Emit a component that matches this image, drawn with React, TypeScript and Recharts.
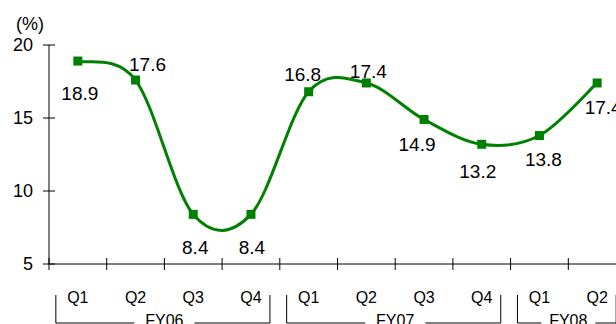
import { LineChart, Line, XAxis, YAxis, LabelList } from 'recharts'

const quarters = ['Q1', 'Q2', 'Q3', 'Q4', 'Q1', 'Q2', 'Q3', 'Q4', 'Q1', 'Q2']
const fiscalYears = ['FY06', 'FY06', 'FY06', 'FY06', 'FY07', 'FY07', 'FY07', 'FY07', 'FY08', 'FY08']
const ratio = [18.9, 17.6, 8.4, 8.4, 16.8, 17.4, 14.9, 13.2, 13.8, 17.4]
const yTicks = [5, 10, 15, 20]

// label placement relative to each marker (dx, dy)
const labelOffsets: [number, number][] = [
  [2, 32], [12, -16], [2, 33], [1, 33], [-6, -17],
  [2, -11], [-7, 25], [-4, 27], [4, 24], [6, 25],
]

const data = quarters.map((q, i) => ({ key: `${fiscalYears[i]}-${q}`, value: ratio[i] }))

const W = 640
const H = 324
const LEFT = 49
const RIGHT = 14
const TOP = 45
const XAXIS_H = 60
const AXIS_Y = H - XAXIS_H
const BAND = (W - LEFT - RIGHT) / data.length
const GREEN = '#008000'
const FONT = '"Liberation Sans", Arial, sans-serif'

// Excel-style smoothed line (Catmull-Rom as bezier)
function smoothCurve(context: any) {
  let pts: [number, number][] = []
  return {
    areaStart() {},
    areaEnd() {},
    lineStart() {
      pts = []
    },
    point(x: number, y: number) {
      pts.push([x, y])
    },
    lineEnd() {
      const n = pts.length
      if (!n) return
      context.moveTo(pts[0][0], pts[0][1])
      for (let i = 0; i < n - 1; i++) {
        const p0 = pts[Math.max(0, i - 1)]
        const p1 = pts[i]
        const p2 = pts[i + 1]
        const p3 = pts[Math.min(n - 1, i + 2)]
        context.bezierCurveTo(
          p1[0] + (p2[0] - p0[0]) / 6,
          p1[1] + (p2[1] - p0[1]) / 6,
          p2[0] - (p3[0] - p1[0]) / 6,
          p2[1] - (p3[1] - p1[1]) / 6,
          p2[0],
          p2[1],
        )
      }
    },
  }
}

function YTick({ y, payload }: any) {
  return (
    <g>
      <line x1={LEFT - 6} x2={LEFT + 6} y1={y} y2={y} stroke="#000" />
      <text x={33} y={y} textAnchor="end" dominantBaseline="central" fontSize={18} fill="#000" fontFamily={FONT}>
        {payload.value}
      </text>
    </g>
  )
}

function XTick({ x, index }: any) {
  const fy = fiscalYears[index]
  const first = index === 0 || fiscalYears[index - 1] !== fy
  const count = fiscalYears.filter((f) => f === fy).length
  let bracket = null
  if (first) {
    const left = x - 22
    const right = x + (count - 1) * BAND + 19
    const mid = x + ((count - 1) * BAND) / 2
    const gap = count > 2 ? 30 : 27
    bracket = (
      <g stroke="#000" strokeWidth={1}>
        <line x1={left} x2={left} y1={295} y2={323} />
        <line x1={right} x2={right} y1={295} y2={323} />
        <line x1={left} x2={mid - gap} y1={323} y2={323} />
        <line x1={mid + gap} x2={right} y1={323} y2={323} />
        <text x={mid} y={326} textAnchor="middle" fontSize={16} fill="#000" stroke="none" fontFamily={FONT}>
          {fy}
        </text>
      </g>
    )
  }
  return (
    <g>
      <line x1={x - BAND / 2} x2={x - BAND / 2} y1={AXIS_Y - 6} y2={AXIS_Y + 6} stroke="#000" />
      {index === quarters.length - 1 && (
        <line x1={x + BAND / 2} x2={x + BAND / 2} y1={AXIS_Y - 6} y2={AXIS_Y + 6} stroke="#000" />
      )}
      <text x={x} y={297} textAnchor="middle" dominantBaseline="central" fontSize={16} fill="#000" fontFamily={FONT}>
        {quarters[index]}
      </text>
      {bracket}
    </g>
  )
}

function Marker({ cx, cy, index }: any) {
  return <rect key={`m-${index}`} x={cx - 4.5} y={cy - 4.5} width={9} height={9} fill={GREEN} />
}

function ValueLabel({ x, y, value, index }: any) {
  const [dx, dy] = labelOffsets[index] ?? [0, 0]
  return (
    <text
      x={x + dx}
      y={y + dy}
      textAnchor="middle"
      dominantBaseline="central"
      fontSize={19}
      fill="#000"
      fontFamily={FONT}
    >
      {Number(value).toFixed(1)}
    </text>
  )
}

export default function App() {
  return (
    <div
      style={{
        position: 'fixed',
        left: 0,
        top: 0,
        width: 616,
        height: 324,
        overflow: 'hidden',
        background: '#fff',
        fontFamily: FONT,
      }}
    >
      <div style={{ position: 'absolute', left: 16, top: 13, fontSize: 18, lineHeight: '22px', color: '#000' }}>(%)</div>
      <LineChart width={W} height={H} data={data} margin={{ top: TOP, right: RIGHT, bottom: 0, left: 0 }}>
        <XAxis
          dataKey="key"
          height={XAXIS_H}
          interval={0}
          padding={{ left: BAND / 2, right: BAND / 2 }}
          tickLine={false}
          axisLine={{ stroke: '#000' }}
          tick={<XTick />}
        />
        <YAxis
          width={LEFT}
          domain={[5, 20]}
          ticks={yTicks}
          interval={0}
          tickLine={false}
          axisLine={{ stroke: '#000' }}
          tick={<YTick />}
        />
        <Line
          type={smoothCurve as any}
          dataKey="value"
          stroke={GREEN}
          strokeWidth={3}
          dot={<Marker />}
          activeDot={false}
          isAnimationActive={false}
        >
          <LabelList dataKey="value" content={<ValueLabel />} />
        </Line>
      </LineChart>
    </div>
  )
}
